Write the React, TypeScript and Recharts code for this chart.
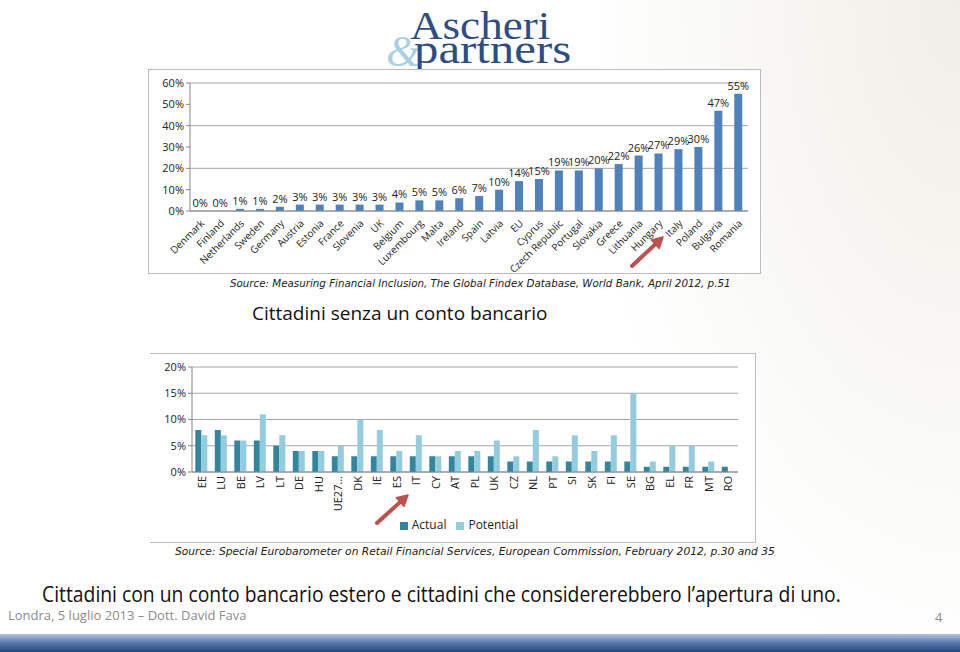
import { BarChart, Bar, XAxis, YAxis, CartesianGrid, LabelList, Legend } from 'recharts'

const COUNTRIES = ['Denmark', 'Finland', 'Netherlands', 'Sweden', 'Germany', 'Austria', 'Estonia', 'France', 'Slovenia', 'UK', 'Belgium', 'Luxembourg', 'Malta', 'Ireland', 'Spain', 'Latvia', 'EU', 'Cyprus', 'Czech Republic', 'Portugal', 'Slovakia', 'Greece', 'Lithuania', 'Hungary', 'Italy', 'Poland', 'Bulgaria', 'Romania']
const UNBANKED = [0, 0, 1, 1, 2, 3, 3, 3, 3, 3, 4, 5, 5, 6, 7, 10, 14, 15, 19, 19, 20, 22, 26, 27, 29, 30, 47, 55]
const TICKS_1 = [0, 10, 20, 30, 40, 50, 60]

const CODES = ['EE', 'LU', 'BE', 'LV', 'LT', 'DE', 'HU', 'UE27…', 'DK', 'IE', 'ES', 'IT', 'CY', 'AT', 'PL', 'UK', 'CZ', 'NL', 'PT', 'SI', 'SK', 'FI', 'SE', 'BG', 'EL', 'FR', 'MT', 'RO']
const ACTUAL = [8, 8, 6, 6, 5, 4, 4, 3, 3, 3, 3, 3, 3, 3, 3, 3, 2, 2, 2, 2, 2, 2, 2, 1, 1, 1, 1, 1]
const POTENTIAL = [7, 7, 6, 11, 7, 4, 4, 5, 10, 8, 4, 7, 3, 4, 4, 6, 3, 8, 3, 7, 4, 7, 15, 2, 5, 5, 2, 0]
const TICKS_2 = [0, 5, 10, 15, 20]

const SANS = "'Open Sans', 'Noto Sans', sans-serif"
const pct = (v: any) => `${v}%`

const data1 = COUNTRIES.map((c, i) => ({ name: c, value: UNBANKED[i] }))
const data2 = CODES.map((c, i) => ({ name: c, actual: ACTUAL[i], potential: POTENTIAL[i] }))

function Arrow({ x1, y1, x2, y2 }: { x1: number; y1: number; x2: number; y2: number }) {
  const a = Math.atan2(y2 - y1, x2 - x1)
  const L = 12
  const p1 = [x2 - L * Math.cos(a - 0.5), y2 - L * Math.sin(a - 0.5)]
  const p2 = [x2 - L * Math.cos(a + 0.5), y2 - L * Math.sin(a + 0.5)]
  const bx = x2 - 8 * Math.cos(a), by = y2 - 8 * Math.sin(a)
  return (
    <g>
      <line x1={x1} y1={y1} x2={bx} y2={by} stroke="#c0504d" strokeWidth={4} strokeLinecap="round" />
      <polygon points={`${p1[0]},${p1[1]} ${x2},${y2} ${p2[0]},${p2[1]}`} fill="#c0504d" stroke="#c0504d" strokeWidth={1.5} strokeLinejoin="round" />
    </g>
  )
}

const abs = (left: number, top: number, extra: any = {}) => ({ position: 'absolute' as const, left, top, ...extra })

export default function App() {
  return (
    <div style={{ position: 'absolute', left: 0, top: 0, width: 960, height: 652, background: '#fff', overflow: 'hidden', fontFamily: SANS }}>
      <div style={abs(600, 0, { width: 360, height: 640, background: 'radial-gradient(ellipse at 100% 0%, #efeee8 0%, #f7f6f2 35%, rgba(255,255,255,0) 75%)' })} />

      {/* logo */}
      <div style={abs(0, 0, { fontFamily: "'Liberation Serif', serif", color: '#2d4d84', lineHeight: 1 })}>
        <div style={abs(386, 30, { fontSize: 44, color: '#a9cfe3', fontStyle: 'italic' })}>&amp;</div>
        <div style={abs(410, 5, { fontSize: 41, transform: 'scaleX(1.1)', transformOrigin: 'left', whiteSpace: 'nowrap' })}>Ascheri</div>
        <div style={abs(414, 28, { fontSize: 41, transform: 'scale(1.19, 1.05)', transformOrigin: 'left', whiteSpace: 'nowrap' })}>partners</div>
      </div>

      {/* chart 1 */}
      <div style={abs(148, 69, { width: 613, height: 205, border: '1px solid #bdbdbd', boxSizing: 'border-box', background: '#fff' })}>
        <BarChart width={611} height={203} data={data1} margin={{ top: 13, right: 12, left: 0, bottom: 0 }} barCategoryGap="31%" style={{ overflow: 'visible' }}>
          <CartesianGrid vertical={false} stroke="#a6a6a6" />
          <YAxis domain={[0, 60]} ticks={TICKS_1} tickFormatter={pct} width={41} stroke="#868686" tick={{ fontSize: 11, fill: '#222', fontFamily: SANS }} tickSize={4} />
          <XAxis dataKey="name" interval={0} height={62} stroke="#868686" tickLine={false} angle={-45} textAnchor="end" tick={{ fontSize: 10, fill: '#222', fontFamily: SANS }} />
          <Bar dataKey="value" fill="#4f81bd" minPointSize={0.01} isAnimationActive={false}>
            <LabelList dataKey="value" position="top" formatter={pct} style={{ fontSize: 11, fill: '#222', fontFamily: SANS }} offset={4} />
          </Bar>
        </BarChart>
      </div>

      <div style={abs(230, 277, { whiteSpace: 'nowrap', fontFamily: "'DejaVu Sans', sans-serif", fontStyle: 'italic', fontSize: 10.3, color: '#222' })}>
        Source: Measuring Financial Inclusion, The Global Findex Database, World Bank, April 2012, p.51
      </div>
      <div style={abs(252, 300, { fontSize: 19, color: '#111' })}>Cittadini senza un conto bancario</div>

      {/* chart 2 */}
      <div style={abs(150, 353, { width: 606, height: 190, border: '1px solid #bdbdbd', borderLeft: 'none', boxSizing: 'border-box', background: '#fff' })}>
        <BarChart width={605} height={189} data={data2} margin={{ top: 13, right: 17, left: 0, bottom: 10 }} barCategoryGap="17%" barGap={0}>
          <CartesianGrid vertical={false} stroke="#a6a6a6" />
          <YAxis domain={[0, 20]} ticks={TICKS_2} tickFormatter={pct} width={42} stroke="#868686" tick={{ fontSize: 11, fill: '#222', fontFamily: SANS }} tickSize={4} />
          <XAxis dataKey="name" interval={0} height={44} stroke="#868686" tickLine={false} angle={-90} textAnchor="end" dy={-4} dx={-4} tick={{ fontSize: 11, fill: '#222', fontFamily: SANS }} />
          <Bar dataKey="actual" name="Actual" fill="#31859c" isAnimationActive={false} />
          <Bar dataKey="potential" name="Potential" fill="#93cddd" isAnimationActive={false} />
          <Legend verticalAlign="bottom" iconType="square" iconSize={8} wrapperStyle={{ fontSize: 12, color: '#222', paddingLeft: 20 }} formatter={(v: any) => <span style={{ color: '#222' }}>{v}</span>} />
        </BarChart>
      </div>

      <div style={abs(175, 545, { whiteSpace: 'nowrap', fontFamily: "'DejaVu Sans', sans-serif", fontStyle: 'italic', fontSize: 10.7, color: '#222' })}>
        Source: Special Eurobarometer on Retail Financial Services, European Commission, February 2012, p.30 and 35
      </div>

      <svg width={960} height={652} style={abs(0, 0, { pointerEvents: 'none' })}>
        <Arrow x1={632} y1={266} x2={663} y2={237} />
        <Arrow x1={377} y1={523} x2={408} y2={495} />
      </svg>

      <div style={abs(42, 580, { fontSize: 21, color: '#111', whiteSpace: 'nowrap', transform: 'scaleX(0.92)', transformOrigin: 'left' })}>
        Cittadini con un conto bancario estero e cittadini che considererebbero l’apertura di uno.
      </div>
      <div style={abs(8, 606, { fontSize: 13, color: '#8c8c8c', whiteSpace: 'nowrap' })}>
        Londra, 5 luglio 2013 – Dott. David Fava
      </div>
      <div style={abs(935, 608, { fontSize: 13, color: '#8c8c8c' })}>4</div>
      <div style={abs(0, 634, { width: 960, height: 18, background: 'linear-gradient(#b4c6e0, #5d7fae 45%, #1f467f)' })} />
    </div>
  )
}
